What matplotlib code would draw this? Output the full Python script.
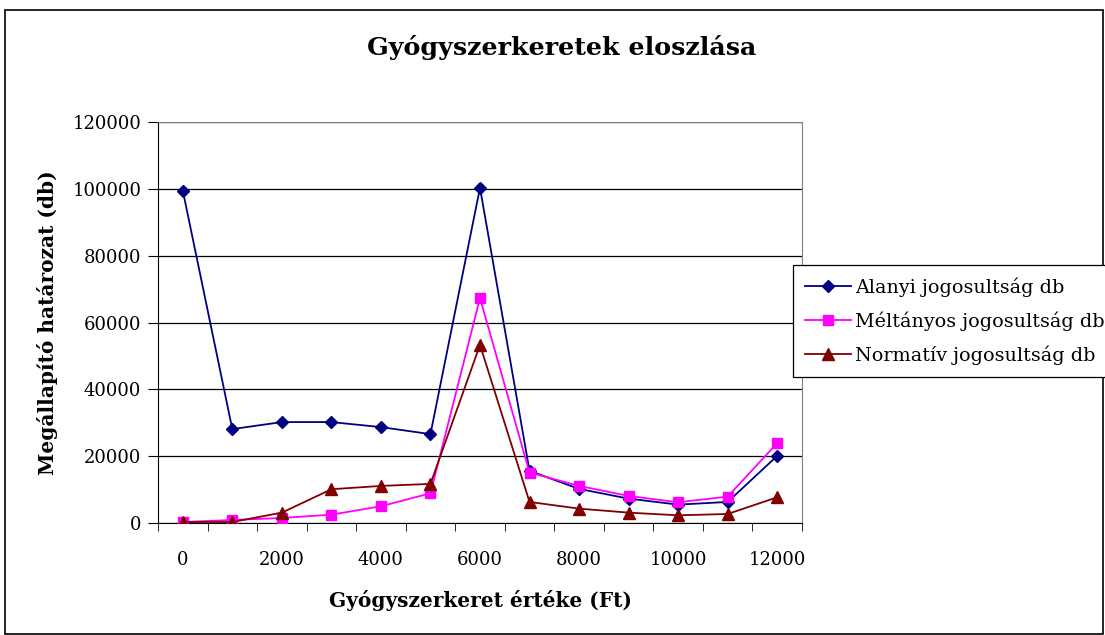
import matplotlib
matplotlib.use("Agg")
import matplotlib.pyplot as plt
from matplotlib.patches import Rectangle
from matplotlib.ticker import FixedLocator, NullFormatter

categories = [0, 1000, 2000, 3000, 4000, 5000, 6000, 7000, 8000, 9000, 10000, 11000, 12000]
alanyi = [99500, 28100, 30200, 30200, 28700, 26600, 100300, 15600, 10200, 7300, 5500, 6300, 20100]
meltanyos = [300, 900, 1500, 2500, 5000, 8900, 67300, 15100, 11100, 8100, 6200, 7900, 23900]
normativ = [300, 300, 3100, 10100, 11100, 11700, 53300, 6300, 4300, 3100, 2300, 2700, 7700]
series_names = ["Alanyi jogosultság db", "Méltányos jogosultság db", "Normatív jogosultság db"]
y_ticks = [0, 20000, 40000, 60000, 80000, 100000, 120000]
x_label_values = [0, 2000, 4000, 6000, 8000, 10000, 12000]

fam = ["DejaVu Serif"]
plt.rcParams['font.family'] = fam

fig = plt.figure(figsize=(11.05, 6.35), dpi=100)
W, H = 1105, 635
ax = fig.add_axes([158 / W, 1 - 523 / H, (802 - 158) / W, (523 - 122) / H])

idx = list(range(len(categories)))
ax.plot(idx, alanyi, color="#000080", marker="D", markersize=6.5, lw=1.3, label=series_names[0], zorder=3)
ax.plot(idx, meltanyos, color="#FF00FF", marker="s", markersize=7.5, lw=1.3, label=series_names[1], zorder=3)
ax.plot(idx, normativ, color="#800000", marker="^", markersize=8.5, lw=1.3, label=series_names[2], zorder=3)

ax.set_xlim(-0.5, len(categories) - 0.5)
ax.set_ylim(0, 120000)
ax.set_yticks(y_ticks)
ax.set_yticklabels([str(v) for v in y_ticks], fontsize=13)
ax.grid(axis="y", color="black", lw=0.9)
ax.set_axisbelow(True)

lab_pos = [categories.index(v) for v in x_label_values]
ax.set_xticks(lab_pos)
ax.set_xticklabels([str(v) for v in x_label_values], fontsize=13)
ax.tick_params(axis="x", which="major", length=0, pad=20)
ax.xaxis.set_minor_locator(FixedLocator([i - 0.5 for i in range(len(categories) + 1)]))
ax.xaxis.set_minor_formatter(NullFormatter())
ax.tick_params(axis="x", which="minor", length=6, direction="out", color="black")
ax.tick_params(axis="y", length=7, direction="out", pad=5)

for s in ["top", "right"]:
    ax.spines[s].set_color("#808080")
for s in ["left", "bottom"]:
    ax.spines[s].set_color("black")

ax.set_xlabel("Gyógyszerkeret értéke (Ft)", fontsize=14.5, fontweight="bold", labelpad=15)
ax.set_ylabel("Megállapító határozat (db)", fontsize=14.5, fontweight="bold", labelpad=10)
fig.text(562 / W, 1 - 48 / H, "Gyógyszerkeretek eloszlása", ha="center", va="center",
         fontsize=18.3, fontweight="bold")

leg = fig.legend(loc="upper left", bbox_to_anchor=(793 / W, 1 - 265 / H), fontsize=13.8,
                 frameon=True, fancybox=False, edgecolor="black", framealpha=1,
                 borderpad=0.65, labelspacing=0.75, handlelength=2.4, handletextpad=0.2,
                 borderaxespad=0)
leg.get_frame().set_linewidth(0.9)

fig.patches.append(Rectangle((5 / W, 1 - 634 / H), 1098 / W, 624 / H, transform=fig.transFigure,
                             fill=False, edgecolor="black", lw=1.2))

fig.savefig("out.png", dpi=100)
